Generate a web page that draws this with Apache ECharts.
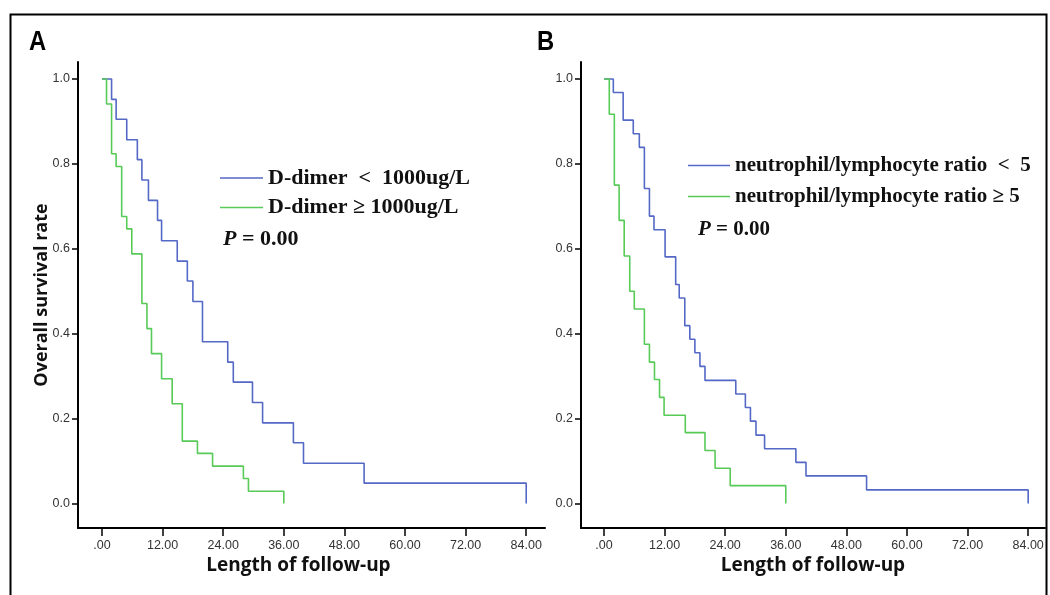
<!DOCTYPE html>
<html>
<head>
<meta charset="utf-8">
<script src="https://cdn.jsdelivr.net/npm/echarts@6/dist/echarts.min.js"></script>
<style>html,body{margin:0;padding:0;background:#fff;}#c{width:1050px;height:595px;}</style>
</head>
<body>
<div id="c"></div>
<script>
// ---- data ----
const xTicks = [0, 12, 24, 36, 48, 60, 72, 84];
const yTicks = [0, 0.2, 0.4, 0.6, 0.8, 1.0];

const seriesNames = [
  'D-dimer  <  1000ug/L',
  'D-dimer ≥ 1000ug/L',
  'neutrophil/lymphocyte ratio  <  5',
  'neutrophil/lymphocyte ratio ≥ 5'
];

// Panel A, D-dimer < 1000ug/L
const aLowTime = [0, 1.9, 2.8, 4.9, 7.0, 7.9, 9.2, 11.0, 11.8, 14.9, 16.9, 18.0, 19.9, 24.9, 26.0, 29.8, 31.8, 37.9, 39.9, 51.9, 84];
const aLowSurv = [1, 0.952, 0.905, 0.857, 0.810, 0.762, 0.714, 0.667, 0.619, 0.571, 0.524, 0.476, 0.381, 0.333, 0.286, 0.238, 0.190, 0.143, 0.095, 0.048, 0];
// Panel A, D-dimer >= 1000ug/L
const aHighTime = [0, 0.9, 1.9, 2.8, 3.9, 4.9, 5.9, 7.9, 8.9, 9.8, 11.8, 13.9, 15.9, 18.9, 21.9, 28.0, 29.0, 36.0];
const aHighSurv = [1, 0.941, 0.824, 0.794, 0.676, 0.647, 0.588, 0.471, 0.412, 0.353, 0.294, 0.235, 0.147, 0.118, 0.088, 0.059, 0.029, 0];
// Panel B, NLR < 5
const bLowTime = [0, 1.85, 3.8, 5.8, 7.0, 8.0, 9.0, 9.9, 12.1, 14.2, 14.9, 16.0, 17.0, 18.0, 19.0, 20.0, 26.1, 28.0, 29.0, 30.1, 31.8, 38.0, 40.0, 52.0, 84.0];
const bLowSurv = [1, 0.968, 0.903, 0.871, 0.839, 0.742, 0.677, 0.645, 0.581, 0.516, 0.484, 0.419, 0.387, 0.355, 0.323, 0.290, 0.258, 0.226, 0.194, 0.161, 0.129, 0.097, 0.065, 0.032, 0];
// Panel B, NLR >= 5
const bHighTime = [0, 1.05, 2.05, 3.0, 4.0, 5.1, 6.0, 8.0, 9.0, 10.0, 11.0, 11.9, 16.1, 20.0, 22.0, 25.0, 36.0];
const bHighSurv = [1, 0.917, 0.750, 0.667, 0.583, 0.500, 0.458, 0.375, 0.333, 0.292, 0.250, 0.208, 0.167, 0.125, 0.083, 0.042, 0];

// ---- styles ----
const BLUE = '#5468c6';
const GREEN = '#58ca58';
const zip = (t, s) => t.map((v, i) => [v, s[i]]);

function xAxisOf(grid, min, max, shiftLeft) {
  return {
    type: 'value', gridIndex: grid, min: min, max: max,
    splitLine: {show: false},
    axisLine: {show: true, onZero: false, lineStyle: {color: '#000', width: 2}},
    axisTick: {show: true, customValues: xTicks, length: 8, lineStyle: {color: '#000', width: 1.5}},
    axisLabel: {show: true, customValues: xTicks, margin: 11, color: '#333',
      fontFamily: 'Liberation Sans', fontSize: 12.5,
      formatter: v => v === 0 ? '.00' : v.toFixed(2)},
    name: 'Length of follow-up', nameLocation: 'middle', nameGap: 28, nameMoveOverlap: false,
    nameTextStyle: {fontFamily: 'Open Sans', fontWeight: 'bold', fontSize: 19, color: '#111',
      padding: [0, shiftLeft * 2, 0, 0]}
  };
}
function yAxisOf(grid, showName) {
  return {
    type: 'value', gridIndex: grid, min: -0.0577, max: 1.04,
    splitLine: {show: false},
    axisLine: {show: true, onZero: false, lineStyle: {color: '#000', width: 2}},
    axisTick: {show: true, customValues: yTicks, length: 6, lineStyle: {color: '#000', width: 1.5}},
    axisLabel: {show: true, customValues: yTicks, margin: 8, color: '#333',
      fontFamily: 'Liberation Sans', fontSize: 12.5,
      formatter: v => v.toFixed(1)},
    name: showName ? 'Overall survival rate' : '', nameLocation: 'middle', nameGap: 27, nameMoveOverlap: false,
    nameTextStyle: {fontFamily: 'Open Sans', fontWeight: 'bold', fontSize: 18, color: '#111'}
  };
}
function lineSeries(name, xi, data, color) {
  return {
    type: 'line', name: name, xAxisIndex: xi, yAxisIndex: xi, data: data,
    step: 'end', symbol: 'none', showSymbol: false, animation: false,
    lineStyle: {color: color, width: 1.6}, itemStyle: {color: color}
  };
}

const chart = echarts.init(document.getElementById('c'), null, {renderer: 'canvas'});
chart.setOption({
  backgroundColor: '#fff',
  animation: false,
  grid: [
    {left: 78, top: 62, width: 467, height: 466},
    {left: 581, top: 62, width: 464, height: 466}
  ],
  xAxis: [xAxisOf(0, -4.75, 87.72, 13), xAxisOf(1, -4.55, 87.33, 0)],
  yAxis: [yAxisOf(0, true), yAxisOf(1, false)],
  legend: [
    {data: [seriesNames[0], seriesNames[1]], orient: 'vertical', left: 215, top: 162,
      icon: 'rect', itemWidth: 43, itemHeight: 1.5, itemGap: 7.5, selectedMode: false,
      textStyle: {fontFamily: 'Liberation Serif', fontWeight: 'bold', fontSize: 22, lineHeight: 22, color: '#111'}},
    {data: [seriesNames[2], seriesNames[3]], orient: 'vertical', left: 683, top: 150,
      icon: 'rect', itemWidth: 42, itemHeight: 1.5, itemGap: 10, selectedMode: false,
      textStyle: {fontFamily: 'Liberation Serif', fontWeight: 'bold', fontSize: 21, lineHeight: 21, color: '#111'}}
  ],
  series: [
    lineSeries(seriesNames[0], 0, zip(aLowTime, aLowSurv), BLUE),
    lineSeries(seriesNames[1], 0, zip(aHighTime, aHighSurv), GREEN),
    lineSeries(seriesNames[2], 1, zip(bLowTime, bLowSurv), BLUE),
    lineSeries(seriesNames[3], 1, zip(bHighTime, bHighSurv), GREEN)
  ],
  graphic: [
    {type: 'rect', left: 8, top: 12, shape: {width: 1036, height: 600}, silent: true,
      style: {fill: 'none', stroke: '#000', lineWidth: 2}},
    {type: 'text', x: 29, y: 42, scaleX: 0.85, silent: true,
      style: {text: 'A', font: 'bold 28px "Liberation Sans"', fill: '#000', verticalAlign: 'middle'}},
    {type: 'text', x: 537, y: 42, scaleX: 0.85, silent: true,
      style: {text: 'B', font: 'bold 28px "Liberation Sans"', fill: '#000', verticalAlign: 'middle'}},
    {type: 'text', x: 223, y: 239, silent: true,
      style: {text: '{i|P} = 0.00', font: 'bold 22px "Liberation Serif"', fill: '#111', verticalAlign: 'middle',
        rich: {i: {fontStyle: 'italic', fontWeight: 'bold', fontSize: 22, fontFamily: 'Liberation Serif'}}}},
    {type: 'text', x: 698, y: 230, silent: true,
      style: {text: '{i|P} = 0.00', font: 'bold 21px "Liberation Serif"', fill: '#111', verticalAlign: 'middle',
        rich: {i: {fontStyle: 'italic', fontWeight: 'bold', fontSize: 21, fontFamily: 'Liberation Serif'}}}}
  ]
});
</script>
</body>
</html>
